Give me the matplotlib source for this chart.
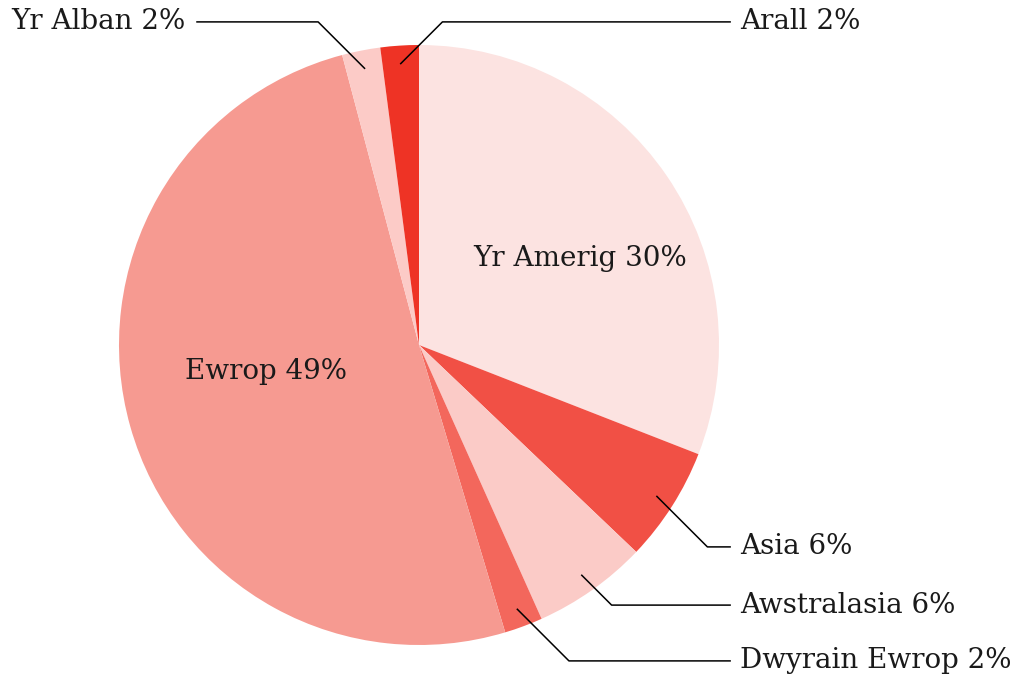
import numpy as np
import matplotlib.pyplot as plt

plt.rcParams['font.family'] = ['DejaVu Serif']

labels = ['Yr Amerig', 'Asia', 'Awstralasia', 'Dwyrain Ewrop', 'Ewrop', 'Yr Alban', 'Arall']
values = [30, 6, 6, 2, 49, 2, 2]
colors = ['#fce3e1', '#f15045', '#fbcbc7', '#f3675c', '#f69a91', '#fccbc7', '#ee3325']

fig = plt.figure(figsize=(10.22, 6.8), dpi=100)
ax = fig.add_axes([0, 0, 1, 1])
ax.pie(values, colors=colors, startangle=90, counterclock=False,
       radius=1, center=(0, 0), wedgeprops=dict(linewidth=0))
ax.set_xlim(-419 / 300, (1022 - 419) / 300)
ax.set_ylim(-335 / 300, 345 / 300)
ax.axis('off')

fs = 20
tc = '#1a1a1a'

# angles of each wedge's middle (clockwise from top)
frac = np.array(values) / sum(values) * 360
ends = np.cumsum(frac)
mids = ends - frac / 2

# inside labels
inside = {'Yr Amerig': (0.537, 0.29), 'Ewrop': (-0.51, -0.087)}
for lab, (x, y) in inside.items():
    v = values[labels.index(lab)]
    ax.text(x, y, f'{lab} {v}%', ha='center', va='center', fontsize=fs, color=tc)

# outside labels with 45 degree leader lines: label y, side
outside = {'Arall': (1.077, 1), 'Yr Alban': (1.077, -1), 'Asia': (-0.673, 1),
           'Awstralasia': (-0.867, 1), 'Dwyrain Ewrop': (-1.053, 1)}
for lab, (ly, side) in outside.items():
    i = labels.index(lab)
    a = np.deg2rad(mids[i])
    px, py = 0.94 * np.sin(a), 0.94 * np.cos(a)
    ex = px + side * abs(ly - py)
    endx = 1.037 if side == 1 else -0.74
    ax.plot([px, ex, endx], [py, ly, ly], color='black', lw=1.1)
    tx = 1.07 if side == 1 else -0.78
    ax.text(tx, ly, f'{lab} {values[i]}%', ha='left' if side == 1 else 'right',
            va='center', fontsize=fs, color=tc)

fig.savefig('out.png', dpi=100)
